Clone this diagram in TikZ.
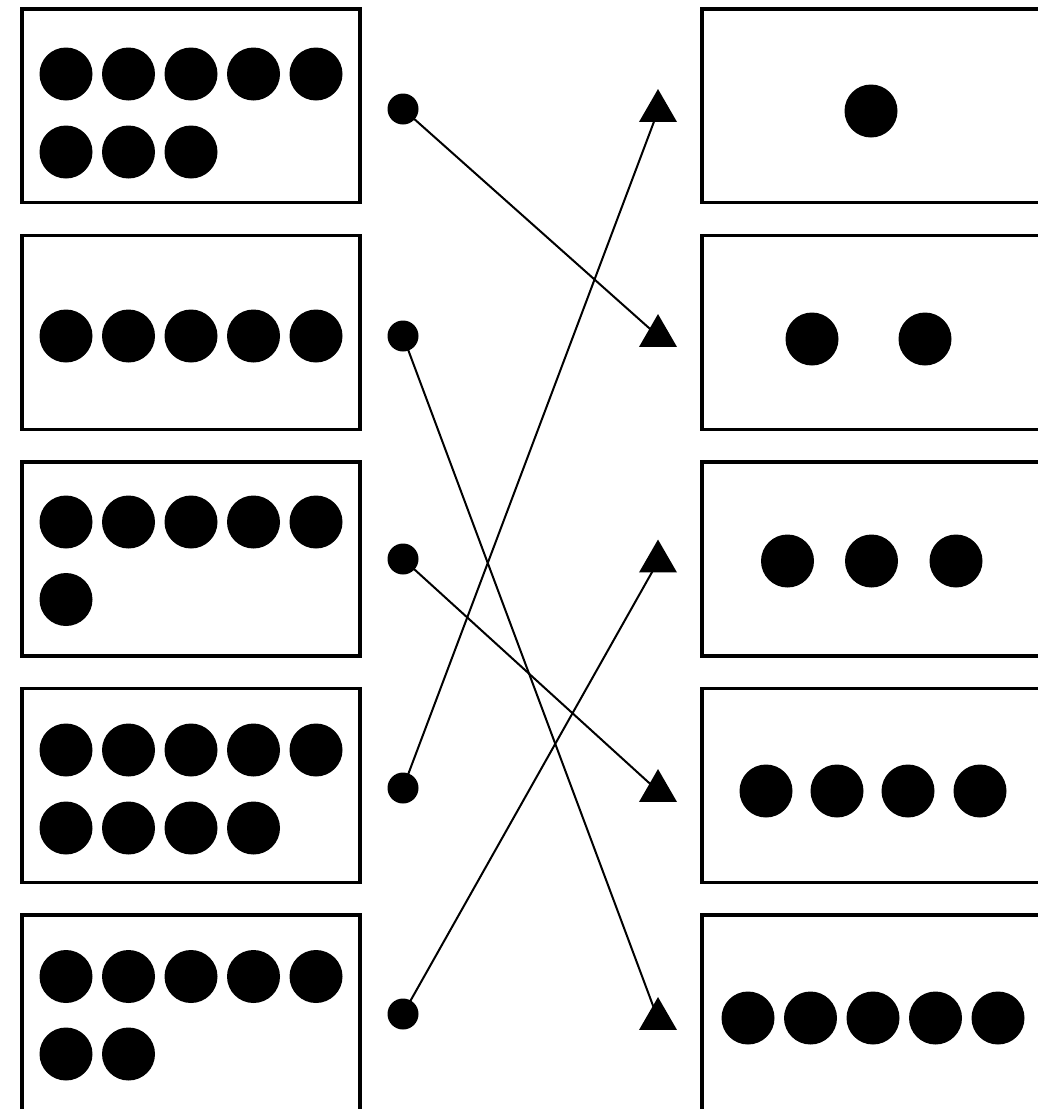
\documentclass[tikz,border=0pt]{standalone}
\usetikzlibrary{shapes.geometric,backgrounds}
\tikzset{
  frame/.style={draw=black, line width=3.5pt},
  bigdot/.style={circle, fill=black, inner sep=0pt, minimum size=53pt},
  smalldot/.style={circle, fill=black, inner sep=0pt, minimum size=31pt},
  tri/.style={regular polygon, regular polygon sides=3, fill=black, inner sep=0pt, minimum size=43.9pt},
  link/.style={draw=black, line width=2pt}
}
\begin{document}
\begin{tikzpicture}[x=1pt,y=-1pt]
\useasboundingbox (0,0) rectangle (1038,1109);
\clip (0,0) rectangle (1038,1109);
% left boxes
\draw[frame] (22,9) rectangle (360,202.5);
\draw[frame] (22,235.5) rectangle (360,429.5);
\draw[frame] (22,462) rectangle (360,656);
\draw[frame] (22,688.5) rectangle (360,882.5);
\draw[frame] (22,915) rectangle (360,1110.5);
% right boxes
\draw[frame] (702,9) rectangle (1060,202.5);
\draw[frame] (702,235.5) rectangle (1060,429.5);
\draw[frame] (702,462) rectangle (1060,656);
\draw[frame] (702,688.5) rectangle (1060,882.5);
\draw[frame] (702,915) rectangle (1060,1110.5);
% left box 1: 8
\foreach \x [count=\i] in {66,128.5,191,253.5,316} \node[bigdot] (la\i) at (\x,74) {};
\foreach \x [count=\i] in {66,128.5,191} \node[bigdot] (lb\i) at (\x,152) {};
% left box 2: 5
\foreach \x [count=\i] in {66,128.5,191,253.5,316} \node[bigdot] (lc\i) at (\x,336) {};
% left box 3: 6
\foreach \x [count=\i] in {66,128.5,191,253.5,316} \node[bigdot] (ld\i) at (\x,522) {};
\node[bigdot] (le1) at (66,599.5) {};
% left box 4: 9
\foreach \x [count=\i] in {66,128.5,191,253.5,316} \node[bigdot] (lf\i) at (\x,750) {};
\foreach \x [count=\i] in {66,128.5,191,253.5} \node[bigdot] (lg\i) at (\x,828) {};
% left box 5: 7
\foreach \x [count=\i] in {66,128.5,191,253.5,316} \node[bigdot] (lh\i) at (\x,976.5) {};
\foreach \x [count=\i] in {66,128.5} \node[bigdot] (li\i) at (\x,1054) {};
% right boxes
\node[bigdot] (ra1) at (871,111) {};
\foreach \x [count=\i] in {812,925} \node[bigdot] (rb\i) at (\x,339) {};
\foreach \x [count=\i] in {787.5,871.5,956} \node[bigdot] (rc\i) at (\x,561) {};
\foreach \x [count=\i] in {766,837,908,980} \node[bigdot] (rd\i) at (\x,791) {};
\foreach \x [count=\i] in {748,810.5,873,935.5,998} \node[bigdot] (re\i) at (\x,1018) {};
% small dots
\node[smalldot] (d1) at (403,109) {};
\node[smalldot] (d2) at (403,336) {};
\node[smalldot] (d3) at (403,559) {};
\node[smalldot] (d4) at (403,788) {};
\node[smalldot] (d5) at (403,1014) {};
% triangles
\node[tri] (t1) at (658,111) {};
\node[tri] (t2) at (658,336) {};
\node[tri] (t3) at (658,561.5) {};
\node[tri] (t4) at (658,791) {};
\node[tri] (t5) at (658,1019) {};
% connectors
\begin{pgfonlayer}{background}
\draw[link] (d1.center) -- (t2.center);
\draw[link] (d2.center) -- (t5.center);
\draw[link] (d3.center) -- (t4.center);
\draw[link] (d4.center) -- (t1.center);
\draw[link] (d5.center) -- (t3.center);
\end{pgfonlayer}
\end{tikzpicture}
\end{document}
